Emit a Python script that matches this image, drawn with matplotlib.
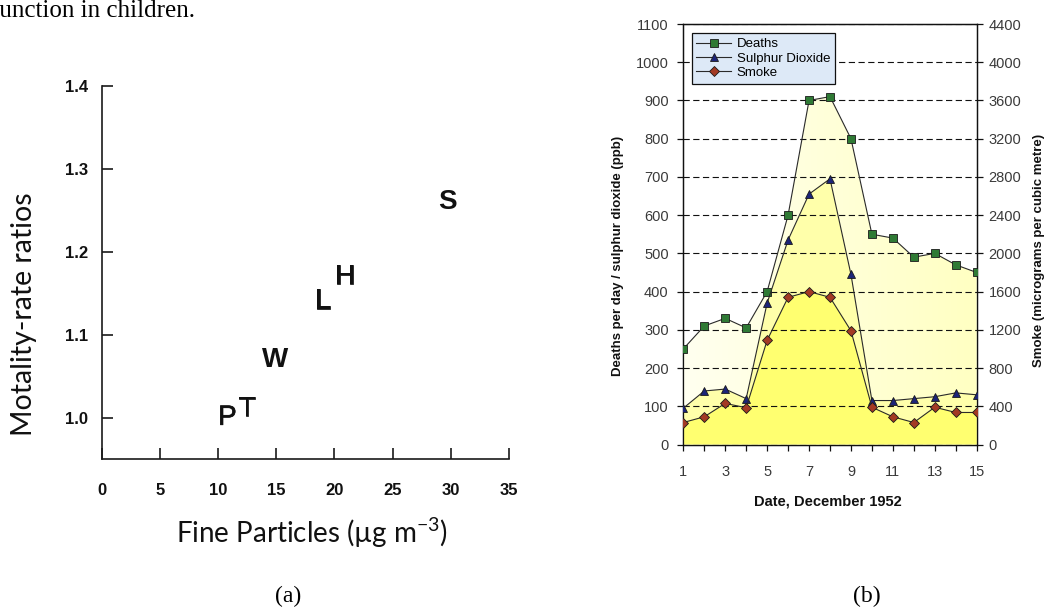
import numpy as np
import matplotlib
matplotlib.use("Agg")
import matplotlib.pyplot as plt
import matplotlib.patheffects as pe
from matplotlib.colors import LinearSegmentedColormap

plt.rcParams["lines.scale_dashes"] = False
plt.rcParams["mathtext.fontset"] = "custom"
plt.rcParams["mathtext.rm"] = "Lato"

W, H, DPI = 1046, 608, 100

# ---- panel (a): mortality vs fine particles, one letter per city ----
city_letters = ["P", "T", "W", "L", "H", "S"]
fine_particles = [10.8, 12.5, 14.9, 19.0, 20.9, 29.7]
mortality_ratio = [1.00, 1.01, 1.07, 1.14, 1.17, 1.26]
a_xticks = [0, 5, 10, 15, 20, 25, 30, 35]
a_yticks = [1.0, 1.1, 1.2, 1.3, 1.4]

# ---- panel (b): London smog, 1-15 December 1952 ----
days = list(range(1, 16))
deaths = [250, 310, 330, 305, 400, 600, 900, 910, 800, 550, 540, 490, 500, 470, 450]
sulphur_dioxide = [95, 140, 145, 120, 370, 535, 655, 695, 445, 115, 115, 120, 125, 135, 130]
smoke = [230, 290, 430, 385, 1090, 1540, 1600, 1540, 1190, 390, 290, 230, 390, 335, 335]
b_left_ticks = list(range(0, 1101, 100))
b_right_ticks = list(range(0, 4401, 400))
b_xtick_labels = [1, 3, 5, 7, 9, 11, 13, 15]

fig = plt.figure(figsize=(W / DPI, H / DPI), dpi=DPI)
fig.patch.set_facecolor("white")


def px(x, y):
    """Pixel position to figure fraction."""
    return x / W, 1 - y / H


def rect(l, t, r, b):
    return [l / W, 1 - b / H, (r - l) / W, (b - t) / H]


# caption line running in from the previous page text
fig.text(*px(-9, 17), "function in children.", family="Liberation Serif",
         fontsize=18, ha="left", va="baseline", color="black")

# ================= panel (a) =================
axa = fig.add_axes(rect(101.7, 85.7, 509, 459.3))
axa.set_xlim(0, 35)
axa.set_ylim(0.95, 1.4)
for s in ("top", "right"):
    axa.spines[s].set_visible(False)
for s in ("left", "bottom"):
    axa.spines[s].set_linewidth(1.2)
    axa.spines[s].set_color("#1a1a1a")
axa.set_xticks(a_xticks)
axa.set_yticks(a_yticks)
axa.set_xticklabels([str(v) for v in a_xticks])
axa.set_yticklabels([f"{v:.1f}" for v in a_yticks])
axa.tick_params(axis="both", direction="in", length=8, width=1.2, color="#1a1a1a")
axa.tick_params(axis="x", pad=17)
axa.tick_params(axis="y", pad=10)
for lab in axa.get_xticklabels() + axa.get_yticklabels():
    lab.set_family("Liberation Sans")
    lab.set_fontweight("bold")
    lab.set_fontsize(12)
    lab.set_color("#111111")

bold_letters = {"W", "S"}
for letter, xv, yv in zip(city_letters, fine_particles, mortality_ratio):
    t = axa.text(xv, yv, letter, ha="center", va="center", family="Liberation Sans",
                 fontsize=20, fontweight="bold" if letter in bold_letters else "normal",
                 color="#111111")
    if letter not in bold_letters:
        t.set_path_effects([pe.withStroke(linewidth=0.5, foreground="#111111")])

fig.text(*px(24, 314), "Motality-rate ratios", family="Lato", fontsize=20.5,
         rotation=90, ha="center", va="center", color="#111111")
fig.text(*px(312, 533), r"Fine Particles (µg m$^{\mathregular{-3}}$)", family="Lato",
         fontsize=20, ha="center", va="center", color="#111111")
fig.text(*px(288, 596), "(a)", family="Liberation Serif", fontsize=17,
         ha="center", va="center", color="black")

# ================= panel (b) =================
axb = fig.add_axes(rect(683.3, 24, 976.7, 444.5))
axs = axb.twinx()
axb.set_zorder(axs.get_zorder() + 1)
axb.patch.set_visible(False)

axb.set_xlim(1, 15)
axb.set_ylim(0, 1100)
axs.set_ylim(0, 4400)

# deaths area: pale yellow wash growing warmer to the right
wash = LinearSegmentedColormap.from_list("wash", ["#fffff0", "#ffffc2"])
deaths_area = axb.fill_between(days, deaths, 0, facecolor="none", edgecolor="none")
grad = axb.imshow(np.linspace(0, 1, 256).reshape(1, -1), cmap=wash,
                  extent=[1, 15, 0, 1100], aspect="auto", zorder=0.1,
                  interpolation="bilinear")
grad.set_clip_path(deaths_area.get_paths()[0], transform=axb.transData)

axb.fill_between(days, sulphur_dioxide, 0, facecolor="#ffffaa", edgecolor="none", zorder=0.2)
axb.fill_between(days, smoke, 0, facecolor="#ffff70", edgecolor="none", zorder=0.3,
                 transform=axs.transData)
axb.set_xlim(1, 15)
axb.set_ylim(0, 1100)

axb.set_axisbelow(True)
axb.set_yticks(b_left_ticks)
axb.yaxis.grid(True, color="#111111", linewidth=0.8, linestyle=(0, (4.5, 2.5)))
axb.set_xticks(days)
axb.set_xticklabels([str(d) if d in b_xtick_labels else "" for d in days])
axs.set_yticks(b_right_ticks)

line_kw = dict(color="#2a2a2a", linewidth=0.8, markeredgewidth=0.6,
               markeredgecolor="#1a1a1a", zorder=3)
axb.plot(days, deaths, marker="s", markersize=5.2, markerfacecolor="#2f7a35",
         label="Deaths", **line_kw)
axb.plot(days, sulphur_dioxide, marker="^", markersize=6, markerfacecolor="#1c2478",
         label="Sulphur Dioxide", **line_kw)
axb.plot(days, smoke, marker="D", markersize=4.6, markerfacecolor="#a33a24", label="Smoke",
         transform=axs.transData, **line_kw)

for ax in (axb, axs):
    for s in ax.spines.values():
        s.set_color("#111111")
        s.set_linewidth(0.9)
axb.tick_params(axis="both", direction="out", length=4.5, width=0.9, color="#111111",
                labelsize=10.5, labelcolor="#3a3a3a")
axb.tick_params(axis="y", pad=6)
axb.tick_params(axis="x", pad=10)
axs.tick_params(axis="y", direction="out", length=4.5, width=0.9, color="#111111",
                labelsize=10.5, labelcolor="#3a3a3a", pad=4)
for lab in axb.get_xticklabels() + axb.get_yticklabels() + axs.get_yticklabels():
    lab.set_family("Liberation Sans")

leg = axb.legend(loc="upper left", bbox_to_anchor=((691.7 - 683.3) / 293.4, (444.5 - 33.3) / 420.5),
                 frameon=True, fancybox=False, facecolor="#dde9f7", edgecolor="#111111",
                 framealpha=1, prop={"family": "Liberation Sans", "size": 9.5},
                 handlelength=2.6, handletextpad=0.45, labelspacing=0.16,
                 borderpad=0.36, borderaxespad=0)
leg.get_frame().set_linewidth(0.9)
leg.set_zorder(5)

fig.text(*px(618, 256), "Deaths per day / sulphur dioxide (ppb)", family="Liberation Sans",
         fontweight="bold", fontsize=9.5, rotation=90, ha="center", va="center",
         color="#111111")
fig.text(*px(1039, 250), "Smoke (micrograms per cubic metre)", family="Liberation Sans",
         fontweight="bold", fontsize=9.5, rotation=90, ha="center", va="center",
         color="#111111")
fig.text(*px(828, 502), "Date, December 1952", family="Liberation Sans",
         fontweight="bold", fontsize=10.5, ha="center", va="center", color="#111111")
fig.text(*px(867, 596), "(b)", family="Liberation Serif", fontsize=17,
         ha="center", va="center", color="black")

fig.savefig("out.png", dpi=DPI, facecolor="white")
